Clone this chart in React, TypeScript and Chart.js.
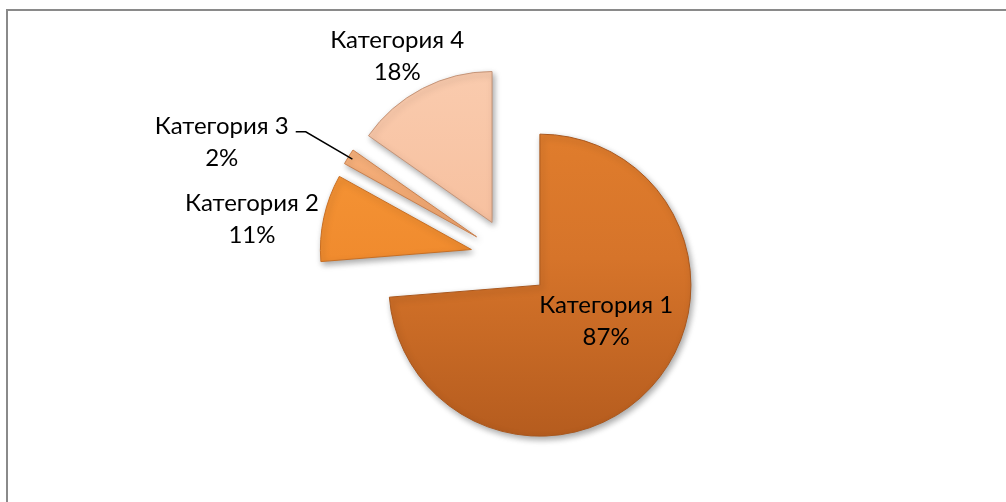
import React, { useEffect, useRef } from "react";
import { Chart, registerables } from "chart.js";

Chart.register(...registerables);

// ---- data ----
const categories = ["Категория 1", "Категория 2", "Категория 3", "Категория 4"];
const values = [87, 11, 2, 18];
const valueLabels = ["87%", "11%", "2%", "18%"];

// ---- styling (kept apart from data) ----
const EXPLODE = 40;
const RADIUS = 151;
const FONT = "24px Lato, 'Noto Sans', sans-serif";
const gradientStops = [
  ["#E6822E", "#D6742A", "#B1591D"],
  ["#F99C3C", "#F08B2E", "#E07A22"],
  ["#F8BA88", "#F2A46C", "#E8935A"],
  ["#FACCAF", "#F6BE9C", "#ECAC88"],
];
const borderColors = ["#A9571D", "#C86E22", "#C9804E", "#C49478"];
const labelPlacement = [
  { dist: 0.5, turn: -14, leader: false },
  { dist: 1.467, turn: -4.4, leader: false },
  { dist: 1.8, turn: -11.7, leader: true },
  { dist: 1.27, turn: -2.2, leader: false },
];

const explodePlugin = {
  id: "explode",
  afterDatasetsUpdate(chart: any) {
    const meta = chart.getDatasetMeta(0);
    meta.data.forEach((el: any) => {
      const mid = (el.startAngle + el.endAngle) / 2;
      el.x += Math.cos(mid) * EXPLODE;
      el.y += Math.sin(mid) * EXPLODE;
    });
  },
  beforeDatasetsDraw(chart: any) {
    const ctx = chart.ctx;
    ctx.save();
    ctx.shadowColor = "rgba(0,0,0,0.35)";
    ctx.shadowBlur = 6;
    ctx.shadowOffsetX = 2;
    ctx.shadowOffsetY = 3;
  },
  afterDatasetsDraw(chart: any) {
    const ctx = chart.ctx;
    ctx.restore();
    const meta = chart.getDatasetMeta(0);
    ctx.save();
    ctx.font = FONT;
    ctx.fillStyle = "#000000";
    ctx.textAlign = "center";
    ctx.textBaseline = "middle";
    meta.data.forEach((el: any, i: number) => {
      const p = labelPlacement[i];
      const mid = (el.startAngle + el.endAngle) / 2 + (p.turn * Math.PI) / 180;
      const r = el.outerRadius;
      const ax = el.x + Math.cos(mid) * r * p.dist;
      const ay = el.y + Math.sin(mid) * r * p.dist;
      ctx.fillText(categories[i], ax, ay - 16);
      ctx.fillText(valueLabels[i], ax, ay + 16);
      if (p.leader) {
        const m = (el.startAngle + el.endAngle) / 2;
        const sx = el.x + Math.cos(m) * r * 0.97;
        const sy = el.y + Math.sin(m) * r * 0.97;
        ctx.beginPath();
        ctx.strokeStyle = "#000000";
        ctx.lineWidth = 1.5;
        ctx.moveTo(sx, sy);
        ctx.lineTo(ax + 84, ay - 10.5);
        ctx.lineTo(ax + 74, ay - 10.5);
        ctx.stroke();
      }
    });
    ctx.restore();
  },
};

export default function App() {
  const ref = useRef<HTMLCanvasElement | null>(null);
  useEffect(() => {
    if (!ref.current) return;
    const chart = new Chart(ref.current, {
      type: "pie",
      data: {
        labels: categories,
        datasets: [
          {
            data: values,
            radius: RADIUS,
            borderWidth: 1,
            borderColor: borderColors,
            backgroundColor: (c: any) => {
              const i = c.dataIndex ?? 0;
              const chart = c.chart;
              const area = chart.chartArea;
              if (!area) return gradientStops[i][1];
              const cy = (area.top + area.bottom) / 2;
              const g = chart.ctx.createLinearGradient(0, cy - RADIUS - 50, 0, cy + RADIUS + 50);
              g.addColorStop(0, gradientStops[i][0]);
              g.addColorStop(0.5, gradientStops[i][1]);
              g.addColorStop(1, gradientStops[i][2]);
              return g;
            },
          } as any,
        ],
      },
      options: {
        responsive: false,
        animation: false,
        layout: { padding: { left: 15, right: 0, top: 14, bottom: 0 } },
        plugins: {
          legend: { display: false },
          tooltip: { enabled: false },
        },
      },
      plugins: [explodePlugin],
    });
    return () => chart.destroy();
  }, []);

  return (
    <div style={{ position: "absolute", left: 0, top: 0, width: 1006, height: 502, background: "#ffffff", overflow: "hidden" }}>
      <canvas ref={ref} width={1006} height={502} style={{ position: "absolute", left: 0, top: 0 }} />
      <div
        style={{
          position: "absolute",
          left: 6,
          top: 9,
          width: 1000,
          height: 493,
          borderTop: "2px solid #8a8a8a",
          borderLeft: "2px solid #8a8a8a",
          pointerEvents: "none",
        }}
      />
    </div>
  );
}
